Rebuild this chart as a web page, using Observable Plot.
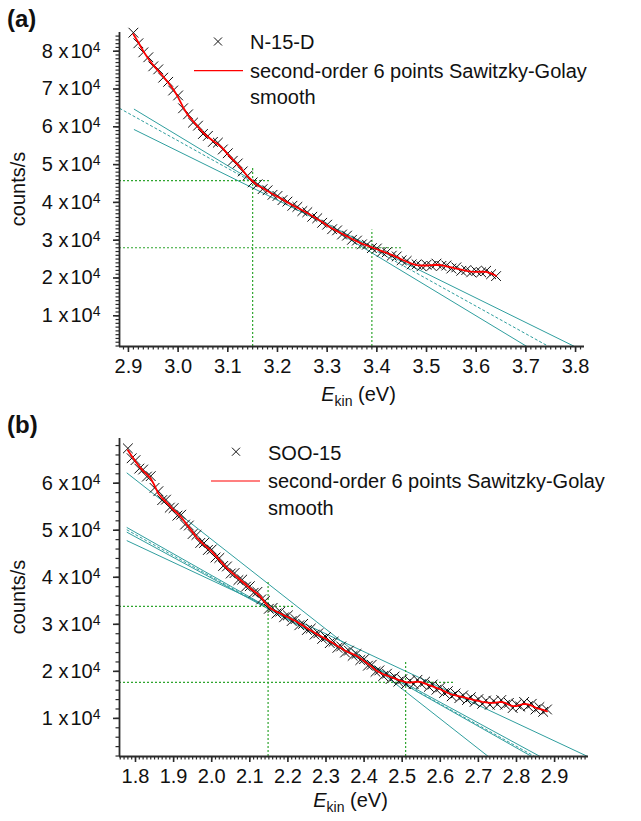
<!DOCTYPE html>
<html><head><meta charset="utf-8">
<script src="https://cdn.jsdelivr.net/npm/d3@7"></script>
<script src="https://cdn.jsdelivr.net/npm/@observablehq/plot@0.6"></script>
<style>
html,body{margin:0;padding:0;background:#fff;}
#wrap{position:relative;width:641px;height:821px;overflow:hidden;}
#wrap svg{position:absolute;left:0;}
</style></head><body><div id="wrap"></div>
<script>
// ---------- Panel (a): N-15-D ----------
const energyA = [2.91,2.92,2.93,2.94,2.95,2.96,2.97,2.98,2.99,3.00,3.01,3.02,3.03,3.04,3.05,3.06,3.07,3.08,3.09,3.10,3.11,3.12,3.13,3.14,3.15,3.16,3.17,3.18,3.19,3.20,3.21,3.22,3.23,3.24,3.25,3.26,3.27,3.28,3.29,3.30,3.31,3.32,3.33,3.34,3.35,3.36,3.37,3.38,3.39,3.40,3.41,3.42,3.43,3.44,3.45,3.46,3.47,3.48,3.49,3.50,3.51,3.52,3.53,3.54,3.55,3.56,3.57,3.58,3.59,3.60,3.61,3.62,3.63,3.64];
const countsA = [84900,82100,79700,78400,76000,75200,73000,71900,69600,68300,
  64900,63300,61100,60300,58100,57600,56000,55800,54000,53000,
  51000,50300,48200,47100,45300,44800,43500,43200,42000,41700,
  40600,40200,39100,38800,37700,37400,36200,35800,34600,34100,
  32900,32600,31500,31200,30100,29900,28900,28800,27900,27800,
  26900,26800,25900,25700,24700,24500,23600,23600,23100,23500,
  23200,23800,23200,23300,22500,22800,21900,22100,21500,21800,
  21500,21900,21000,20500];
const smoothA = [84500,82300,80000,78000,76300,74800,73300,71700,70000,67800,
  65200,63000,61500,60000,58500,57300,56300,55400,54300,52700,
  51300,50000,48500,46800,45600,44500,43800,43000,42200,41500,
  40800,40000,39300,38600,37900,37200,36400,35600,34800,33900,
  33100,32400,31700,31000,30300,29700,29100,28600,28100,27600,
  27100,26600,26100,25500,24900,24300,23800,23400,23300,23300,
  23400,23500,23400,23100,22800,22500,22200,21900,21700,21600,
  21700,21600,21200,20600];
const tanA_x1 = [2.911, 2.882, 2.911];
const tanA_y1 = [64700, 64900, 59300];
const tanA_x2 = [3.702, 3.746, 3.798];
const tanA_y2 = [1870, 1870, 1870];
const tanA_dashed = [false, true, false];
const markA_x = [3.15, 3.39];
const markA_y = [45750, 28000];
const markA_top = [49300, 32700];
const markA_right = [3.186, 3.451];
const xTicksA = [2.9,3.0,3.1,3.2,3.3,3.4,3.5,3.6,3.7,3.8];
const yTicksA = [10000,20000,30000,40000,50000,60000,70000,80000];
const xDomainA = [2.882, 3.818];
const yDomainA = [1870, 84950];
const legendA = ["N-15-D", "second-order 6 points Sawitzky-Golay", "smooth"];

// ---------- Panel (b): SOO-15 ----------
const energyB = [1.78,1.79,1.80,1.81,1.82,1.83,1.84,1.85,1.86,1.87,1.88,1.89,1.90,1.91,1.92,1.93,1.94,1.95,1.96,1.97,1.98,1.99,2.00,2.01,2.02,2.03,2.04,2.05,2.06,2.07,2.08,2.09,2.10,2.11,2.12,2.13,2.14,2.15,2.16,2.17,2.18,2.19,2.20,2.21,2.22,2.23,2.24,2.25,2.26,2.27,2.28,2.29,2.30,2.31,2.32,2.33,2.34,2.35,2.36,2.37,2.38,2.39,2.40,2.41,2.42,2.43,2.44,2.45,2.46,2.47,2.48,2.49,2.50,2.51,2.52,2.53,2.54,2.55,2.56,2.57,2.58,2.59,2.60,2.61,2.62,2.63,2.64,2.65,2.66,2.67,2.68,2.69,2.70,2.71,2.72,2.73,2.74,2.75,2.76,2.77,2.78,2.79,2.80,2.81,2.82,2.83,2.84,2.85,2.86,2.87,2.88];
const countsB = [67400,65300,64900,63100,62900,61400,61500,59000,58300,56400,
  56500,54800,54700,53100,53300,51200,51000,49200,49000,47300,
  47300,45800,45900,44200,44100,42400,42300,40800,40900,39400,
  39500,38000,38100,36700,36900,35300,35000,33300,33500,32300,
  32700,31500,31900,30700,31100,29800,30100,28800,29100,27800,
  28100,26900,27300,26000,26300,25000,25300,24000,24400,23300,
  23700,22400,22600,21200,21400,19900,20200,19000,19500,18400,
  18900,17800,18300,17300,18000,17300,18200,17300,17800,16700,
  17200,16100,16600,15400,15800,14700,15300,14300,14900,13900,
  14500,13500,14100,13100,13800,12900,13700,13000,13900,12900,
  13300,12200,13000,12500,13500,12600,13100,11900,12400,11400,
  11900];
const smoothB = [67000,65800,64600,63500,62600,61800,61000,59500,57800,56800,
  56000,55200,54300,53600,52800,51700,50600,49600,48500,47700,
  46900,46200,45500,44600,43700,42800,41900,41200,40500,39800,
  39100,38400,37700,37100,36500,35700,34600,33700,33100,32700,
  32300,31900,31500,31100,30700,30200,29700,29200,28700,28200,
  27700,27300,26900,26400,25900,25400,24900,24400,24000,23700,
  23300,22800,22200,21600,21000,20300,19800,19400,19100,18800,
  18500,18200,17900,17700,17600,17700,17800,17700,17400,17100,
  16800,16500,16200,15800,15400,15100,14900,14700,14500,14300,
  14100,13900,13700,13500,13400,13300,13300,13400,13500,13300,
  12900,12600,12600,12900,13100,13000,12700,12300,12000,11800,
  11500];
const tanB_x1 = [1.777, 1.777, 1.777, 1.777, 1.777];
const tanB_y1 = [62200, 50600, 50100, 49600, 47800];
const tanB_x2 = [2.726, 2.840, 2.848, 2.862, 2.987];
const tanB_y2 = [1900, 1900, 1900, 1900, 1900];
const tanB_dashed = [false, false, true, false, false];
const markB_x = [2.148, 2.509];
const markB_y = [33830, 17660];
const markB_top = [38940, 22130];
const markB_right = [2.215, 2.640];
const xTicksB = [1.8,1.9,2.0,2.1,2.2,2.3,2.4,2.5,2.6,2.7,2.8,2.9];
const yTicksB = [10000,20000,30000,40000,50000,60000];
const xDomainB = [1.758, 2.989];
const yDomainB = [1900, 69500];
const legendB = ["SOO-15", "second-order 6 points Sawitzky-Golay", "smooth"];

// ---------- drawing ----------
const FONT = "'Liberation Sans', Arial, Helvetica, sans-serif";
const TEAL = "#2f9e9e", GREEN = "#2ea52e", RED = "#ff0000", AXIS = "#2a2a2a";
const NS = "http://www.w3.org/2000/svg";
function el(parent, tag, attrs, text) {
  const e = document.createElementNS(NS, tag);
  for (const k in attrs) e.setAttribute(k, attrs[k]);
  if (text != null) e.textContent = text;
  parent.appendChild(e);
  return e;
}

function panel(cfg) {
  const pts = cfg.energy.map((x, i) => ({x, c: cfg.counts[i], s: cfg.smooth[i]}));
  const tans = cfg.tx1.map((x1, i) => ({x1, y1: cfg.ty1[i], x2: cfg.tx2[i], y2: cfg.ty2[i], dashed: cfg.tdash[i]}));
  const marks = cfg.mx.map((x, i) => ({x, y: cfg.my[i], top: cfg.mtop[i], right: cfg.mright[i]}));
  const x0 = cfg.xDomain[0], y0 = cfg.yDomain[0];
  const minorX = d3.range(Math.ceil(x0 * 100), Math.floor(cfg.xDomain[1] * 100) + 1).map(v => v / 100);
  const minorY = d3.range(Math.ceil(y0 / cfg.minorStep), Math.floor(cfg.yDomain[1] / cfg.minorStep) + 1).map(v => v * cfg.minorStep);
  const svg = Plot.plot({
    width: 641, height: cfg.height,
    marginLeft: 119, marginRight: cfg.mr, marginTop: cfg.mt, marginBottom: cfg.mb,
    style: {fontFamily: FONT, fontSize: "20px", color: AXIS, background: "transparent", overflow: "visible"},
    x: {domain: cfg.xDomain},
    y: {domain: cfg.yDomain},
    marks: [
      Plot.link(tans.filter(d => !d.dashed), {x1: "x1", y1: "y1", x2: "x2", y2: "y2", stroke: TEAL, strokeWidth: 1, clip: true}),
      Plot.link(tans.filter(d => d.dashed), {x1: "x1", y1: "y1", x2: "x2", y2: "y2", stroke: TEAL, strokeWidth: 1, strokeDasharray: "3,2", clip: true}),
      Plot.ruleX(marks, {x: "x", y1: () => y0, y2: "top", stroke: GREEN, strokeWidth: 1.2, strokeDasharray: "2,2"}),
      Plot.ruleY(marks, {y: "y", x1: () => x0, x2: "right", stroke: GREEN, strokeWidth: 1.2, strokeDasharray: "2,2"}),
      Plot.dot(pts, {x: "x", y: "c", symbol: "times", r: 4.5, stroke: "#111", strokeWidth: 1}),
      Plot.line(pts, {x: "x", y: "s", stroke: RED, strokeWidth: 1.8}),
      Plot.axisY({ticks: minorY, tickSize: 3.5, tickFormat: () => "", label: null, stroke: AXIS, strokeWidth: 1.2}),
      Plot.axisY({ticks: cfg.yTicks, tickSize: 6, tickPadding: 13, tickFormat: d => `${d / 1e4} x 10^4`, label: null, stroke: AXIS, strokeWidth: 1.6, fontSize: 20, fill: "#111"}),
      Plot.axisX({ticks: minorX, tickSize: 3.5, tickFormat: () => "", label: null, stroke: AXIS, strokeWidth: 1.2}),
      Plot.axisX({ticks: cfg.xTicks, tickSize: 6, tickPadding: 6, tickFormat: d3.format(".1f"), label: null, stroke: AXIS, strokeWidth: 1.6, fontSize: 20, fill: "#111"}),
      Plot.ruleX([x0], {stroke: AXIS, strokeWidth: 1.8}),
      Plot.ruleY([y0], {stroke: AXIS, strokeWidth: 1.8})
    ]
  });
  svg.style.top = cfg.top + "px";

  // superscript tick labels
  svg.querySelectorAll("text").forEach(t => {
    const s = t.textContent;
    if (!s.includes("^")) return;
    const [base, exp] = s.split("^");
    const parts = base.split(" x ");
    t.textContent = "";
    el(t, "tspan", {}, parts[0] + " x");
    el(t, "tspan", {dx: "2"}, parts[1]);
    el(t, "tspan", {dy: "-6", "font-size": "14"}, exp);
  });

  const sx = svg.scale("x"), sy = svg.scale("y");
  const fx = (sx.apply(cfg.xDomain[0]) + sx.apply(cfg.xDomain[1])) / 2;
  const fy = (sy.apply(cfg.yDomain[0]) + sy.apply(cfg.yDomain[1])) / 2;
  const g = el(svg, "g", {"font-family": FONT, fill: "#111", "text-anchor": "start"});

  // x label
  const xl = el(g, "text", {x: fx + cfg.xlabDx, y: cfg.xlabY, "text-anchor": "middle", "font-size": 20});
  el(xl, "tspan", {"font-style": "italic"}, "E");
  el(xl, "tspan", {"font-size": 14, dy: 5}, "kin");
  el(xl, "tspan", {dy: -5}, " (eV)");
  // y label
  el(g, "text", {transform: `translate(25,${fy}) rotate(-90)`, "text-anchor": "middle", "font-size": 20}, "counts/s");
  // panel label
  el(g, "text", {x: 7, y: cfg.tagY, "font-size": 24, "font-weight": "bold", "text-anchor": "start"}, cfg.tag);

  // legend
  const L = cfg.leg;
  const sym = d3.symbol(d3.symbolTimes, 44)();
  el(g, "path", {d: sym, transform: `translate(${L.cx},${L.cy})`, stroke: "#111", "stroke-width": 1, fill: "none"});
  el(g, "text", {x: L.tx, y: L.b1, "font-size": 20, "text-anchor": "start"}, cfg.legend[0]);
  el(g, "line", {x1: L.lx1, x2: L.lx2, y1: L.ly, y2: L.ly, stroke: RED, "stroke-width": 1.2});
  el(g, "text", {x: L.tx, y: L.b2, "font-size": 20, "text-anchor": "start"}, cfg.legend[1]);
  el(g, "text", {x: L.tx, y: L.b3, "font-size": 20, "text-anchor": "start"}, cfg.legend[2]);
  return svg;
}

const wrap = document.getElementById("wrap");
wrap.appendChild(panel({
  top: 0, height: 412, mt: 32, mb: 66, mr: 57,
  energy: energyA, counts: countsA, smooth: smoothA,
  tx1: tanA_x1, ty1: tanA_y1, tx2: tanA_x2, ty2: tanA_y2, tdash: tanA_dashed,
  mx: markA_x, my: markA_y, mtop: markA_top, mright: markA_right,
  xTicks: xTicksA, yTicks: yTicksA, xDomain: xDomainA, yDomain: yDomainA, minorStep: 1000,
  xlabDx: 7, xlabY: 401, tag: "(a)", tagY: 27, legend: legendA,
  leg: {cx: 218, cy: 41.5, tx: 250, b1: 49, lx1: 194, lx2: 243, ly: 70.7, b2: 77.5, b3: 103.5}
}));
wrap.appendChild(panel({
  top: 412, height: 409, mt: 26, mb: 65, mr: 53,
  energy: energyB, counts: countsB, smooth: smoothB,
  tx1: tanB_x1, ty1: tanB_y1, tx2: tanB_x2, ty2: tanB_y2, tdash: tanB_dashed,
  mx: markB_x, my: markB_y, mtop: markB_top, mright: markB_right,
  xTicks: xTicksB, yTicks: yTicksB, xDomain: xDomainB, yDomain: yDomainB, minorStep: 2000,
  xlabDx: -3, xlabY: 395, tag: "(b)", tagY: 21, legend: legendB,
  leg: {cx: 236, cy: 39.7, tx: 268, b1: 48, lx1: 211, lx2: 260, ly: 69, b2: 76.3, b3: 102.5}
}));
</script></body></html>
